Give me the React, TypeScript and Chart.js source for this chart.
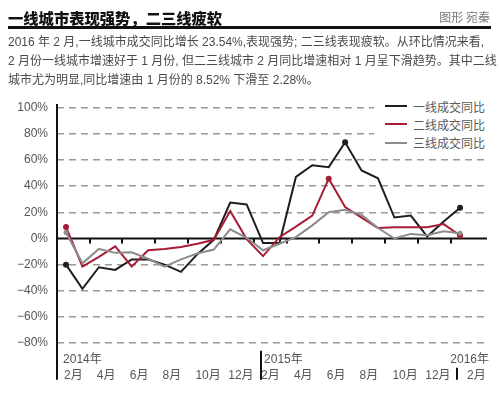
import React, { useEffect, useRef } from 'react';
import { Chart, registerables } from 'chart.js';
Chart.register(...registerables);

const monthLabels = ['2月','3月','4月','5月','6月','7月','8月','9月','10月','11月','12月','1月','2月','3月','4月','5月','6月','7月','8月','9月','10月','11月','12月','1月','2月'];
const yearLabels = ['2014年', '2015年', '2016年'];
const yearStartIndex = [0, 12, 24];
const tier1 = [-20, -38.5, -22, -24, -16, -16, -20, -25.5, -12, -1, 27.5, 26, -3.5, -3.5, 47, 56, 54.5, 73.5, 52, 46, 16, 17.5, 1.5, 13, 23.54];
const tier2 = [8.8, -21.5, -14, -6, -21.5, -9, -8, -6.5, -4, -1, 21, -0.5, -13.5, 1, 9, 17.5, 45.7, 24, 16, 8, 8.5, 8.5, 8.5, 11, 2.28];
const tier3 = [4.5, -19, -8, -11, -10.5, -15.5, -21.5, -16, -11.5, -8.5, 7, 0.5, -9, -4, 1, 10, 20, 22, 18, 8, 0, 3.5, 2.5, 5.5, 4];
const seriesNames = ['一线成交同比', '二线成交同比', '三线成交同比'];
const seriesColors = ['#1e1e1e', '#a81c34', '#8c8c8c'];
const markerIdx = [[0, 17, 24], [0, 16, 24], [0, 24]];
const yTickValues = [-80, -60, -40, -20, 0, 20, 40, 60, 80, 100];
const xTickMarks = [1.43, 3.43, 5.43, 7.43, 9.43, 11.43, 13.43, 15.43, 17.43, 19.43, 21.43, 23.43];

const FONT = '"Liberation Sans", "Noto Sans CJK SC", sans-serif';

const decor = {
  id: 'decor',
  beforeDatasetsDraw(chart: any) {
    const { ctx, chartArea, scales } = chart;
    const x = scales.x, y = scales.y;
    const y0 = y.getPixelForValue(0);
    ctx.save();
    ctx.setLineDash([]);
    ctx.strokeStyle = '#111';
    ctx.lineWidth = 2;
    ctx.beginPath();
    ctx.moveTo(chartArea.left, y0);
    ctx.lineTo(chartArea.right, y0);
    xTickMarks.forEach((v) => {
      const px = Math.round(x.getPixelForValue(v));
      ctx.moveTo(px, y0);
      ctx.lineTo(px, y0 + 5);
    });
    ctx.stroke();
    ctx.restore();
  },
  afterDraw(chart: any) {
    const { ctx, chartArea, scales } = chart;
    const x = scales.x;
    const b = chartArea.bottom;
    ctx.save();
    ctx.setLineDash([]);
    ctx.strokeStyle = '#111';
    ctx.lineWidth = 2;
    ctx.beginPath();
    ctx.moveTo(chartArea.left, chartArea.top - 1);
    ctx.lineTo(chartArea.left, b);
    const s15 = Math.round(x.getPixelForValue(yearStartIndex[1])) - 2;
    ctx.moveTo(s15, b - 29);
    ctx.lineTo(s15, b);
    const s16 = Math.round(x.getPixelForValue(yearStartIndex[2])) - 3;
    ctx.moveTo(s16, b - 12);
    ctx.lineTo(s16, b);
    ctx.stroke();

    ctx.fillStyle = '#555';
    ctx.font = '12px ' + FONT;
    ctx.textBaseline = 'middle';
    ctx.textAlign = 'left';
    ctx.fillText(yearLabels[0], x.getPixelForValue(yearStartIndex[0]) - 3, b - 20);
    ctx.fillText(yearLabels[1], x.getPixelForValue(yearStartIndex[1]) + 1, b - 20);
    ctx.textAlign = 'right';
    ctx.fillText(yearLabels[2], chartArea.right + 2, b - 20);
    ctx.textAlign = 'left';
    monthLabels.forEach((m, i) => {
      if (i % 2 !== 0) return;
      const px = x.getPixelForValue(i);
      const off = i === 24 ? 7 : -2;
      ctx.fillText(m, px + off, b - 4);
    });
    ctx.restore();
  },
};

export default function App() {
  const ref = useRef<HTMLCanvasElement>(null);
  useEffect(() => {
    if (!ref.current) return;
    const all = [tier1, tier2, tier3];
    const chart = new Chart(ref.current, {
      type: 'line',
      data: {
        datasets: all.map((arr, si) => ({
          label: seriesNames[si],
          data: arr.map((v, i) => ({ x: i, y: v })),
          borderColor: seriesColors[si],
          backgroundColor: seriesColors[si],
          borderWidth: 2,
          tension: 0,
          pointRadius: (c: any) => (markerIdx[si].includes(c.dataIndex) ? (si === 2 ? 2.5 : 3) : 0),
          pointBorderWidth: 0,
          order: 3 - si,
        })),
      },
      options: {
        responsive: false,
        animation: false,
        layout: { padding: { top: 105, right: 12, bottom: 11, left: 0 } },
        plugins: { legend: { display: false }, tooltip: { enabled: false } },
        scales: {
          x: { type: 'linear', min: -0.55, max: 25.64, display: false },
          y: {
            min: -108,
            max: 102,
            afterBuildTicks: (s: any) => {
              s.ticks = yTickValues.map((v) => ({ value: v }));
            },
            afterFit: (s: any) => {
              s.width = 57;
            },
            ticks: {
              padding: 9,
              color: '#555',
              font: { size: 12, family: FONT },
              callback: (v: any) => (v < 0 ? '−' + Math.abs(v) : String(v)) + '%',
            },
            grid: {
              drawTicks: false,
              color: (c: any) => (c.tick && c.tick.value === 0 ? 'rgba(0,0,0,0)' : '#9a9a9a'),
              lineWidth: 1.5,
              borderDash: [7, 5],
            },
            border: { display: false, dash: [7, 5] },
          },
        },
      },
      plugins: [decor],
    } as any);
    return () => chart.destroy();
  }, []);

  const legendItems = seriesNames.map((n, i) => (
    <div key={n} style={{ position: 'absolute', left: 0, top: i * 18.3, height: 18, display: 'flex', alignItems: 'center' }}>
      <div style={{ width: 22, height: 2, background: seriesColors[i] }} />
      <div style={{ marginLeft: 6, fontSize: 12, color: '#5a5a5a', fontFamily: FONT, whiteSpace: 'nowrap' }}>{n}</div>
    </div>
  ));

  return (
    <div style={{ position: 'fixed', left: 0, top: 0, width: 499, height: 396, background: '#fff', overflow: 'hidden' }}>
      <canvas ref={ref} width={499} height={396} style={{ position: 'absolute', left: 0, top: 0 }} />
      <div style={{ position: 'absolute', left: 8, top: 7, fontSize: 15.3, lineHeight: '20px', fontWeight: 900, color: '#111', fontFamily: '"Noto Sans CJK SC", sans-serif', whiteSpace: 'nowrap' }}>
        一线城市表现强势，二三线疲软
      </div>
      <div style={{ position: 'absolute', right: 9, top: 8, fontSize: 12, lineHeight: '18px', color: '#777', fontFamily: '"Noto Sans CJK SC", sans-serif', whiteSpace: 'nowrap' }}>
        图形 宛秦
      </div>
      <div style={{ position: 'absolute', left: 8, top: 26, width: 483, height: 3, background: '#111' }} />
      <div style={{ position: 'absolute', left: 8, top: 33, fontSize: 12, lineHeight: '19px', color: '#4a4a4a', fontFamily: FONT, whiteSpace: 'nowrap' }}>
        <div>2016 年 2 月,一线城市成交同比增长 23.54%,表现强势; 二三线表现疲软。从环比情况来看,</div>
        <div>2 月份一线城市增速好于 1 月份, 但二三线城市 2 月同比增速相对 1 月呈下滑趋势。其中二线</div>
        <div>城市尤为明显,同比增速由 1 月份的 8.52% 下滑至 2.28%。</div>
      </div>
      <div style={{ position: 'absolute', left: 374, top: 96, width: 120, height: 56, background: '#fff' }}>
        <div style={{ position: 'absolute', left: 11, top: 1 }}>{legendItems}</div>
      </div>
    </div>
  );
}
